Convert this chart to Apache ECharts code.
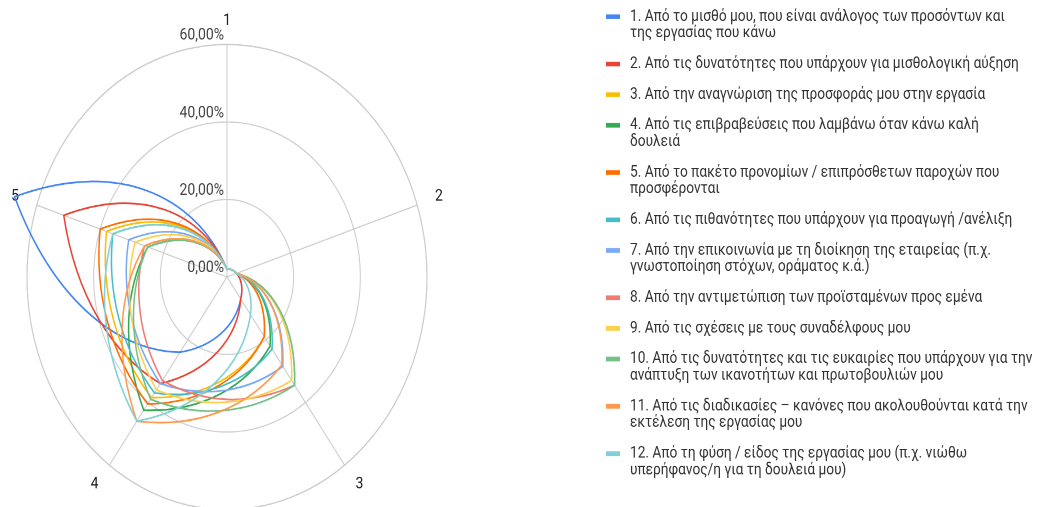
<!DOCTYPE html>
<html>
<head>
<meta charset="utf-8">
<script src="https://cdn.jsdelivr.net/npm/echarts@6/dist/echarts.min.js"></script>
<style>
  html, body { margin: 0; padding: 0; background: #fff; overflow: hidden; }
  #wrap { width: 1038px; height: 507px; overflow: hidden; }
  /* the radar is laid out on a 436px tall canvas and stretched to the full height */
  #chart { width: 1038px; height: 436px; transform: scaleY(1.1628); transform-origin: 0 0; }
</style>
</head>
<body>
<div id="wrap"><div id="chart"></div></div>
<script>
// spokes of the radar
const axisNames = ['1', '2', '3', '4', '5'];
// radial tick labels (0 % .. 60 %)
const tickLabels = ['0,00%', '20,00%', '40,00%', '60,00%'];

const seriesNames = [
  '1. Από το μισθό μου, που είναι ανάλογος των προσόντων και\nτης εργασίας που κάνω',
  '2. Από τις δυνατότητες που υπάρχουν για μισθολογική αύξηση',
  '3. Από την αναγνώριση της προσφοράς μου στην εργασία',
  '4. Από τις επιβραβεύσεις που λαμβάνω όταν κάνω καλή\nδουλειά',
  '5. Από το πακέτο προνομίων / επιπρόσθετων παροχών που\nπροσφέρονται',
  '6. Από τις πιθανότητες που υπάρχουν για προαγωγή /ανέλιξη',
  '7. Από την επικοινωνία με τη διοίκηση της εταιρείας (π.χ.\nγνωστοποίηση στόχων, οράματος κ.ά.)',
  '8. Από την αντιμετώπιση των προϊσταμένων προς εμένα',
  '9. Από τις σχέσεις με τους συναδέλφους μου',
  '10. Από τις δυνατότητες και τις ευκαιρίες που υπάρχουν για την\nανάπτυξη των ικανοτήτων και πρωτοβουλιών μου',
  '11. Από τις διαδικασίες – κανόνες που ακολουθούνται κατά την\nεκτέλεση της εργασίας μου',
  '12. Από τη φύση / είδος της εργασίας μου (π.χ. νιώθω\nυπερήφανος/η για τη δουλειά μου)'
];

const seriesColors = ['#4285F4', '#EA4335', '#FBBC04', '#34A853', '#FF6D01', '#46BDC6',
                      '#7BAAF7', '#F07B72', '#FCD04F', '#71C287', '#FF994D', '#7ED1D7'];

// percentage of answers per spoke 1..5
const pay           = [2, 3, 7, 24, 67];
const payRise       = [2, 3, 7, 34, 51.5];
const recognition   = [2, 3, 19, 38.5, 38];
const rewards       = [2, 3, 22, 42.5, 25];
const benefits      = [2, 3, 19, 40.5, 40];
const promotion     = [2, 3, 23, 37, 36];
const communication = [2, 3, 28.5, 34, 31];
const supervisors   = [2, 3, 34.5, 33, 26];
const colleagues    = [2, 3, 33, 36, 29];
const development   = [2, 3, 34.5, 39, 25];
const procedures    = [2, 3, 28, 46, 26];
const natureOfWork  = [2, 3, 12, 46, 36];

const seriesValues = [pay, payRise, recognition, rewards, benefits, promotion,
                      communication, supervisors, colleagues, development, procedures, natureOfWork];

const chart = echarts.init(document.getElementById('chart'), null, { renderer: 'canvas', devicePixelRatio: 2 });

// Each segment between two spokes is a cubic curve whose control points sit
// one third and two thirds of the way along the spoke-to-spoke step in polar space.
function makeRenderer(color) {
  return function (params, api) {
    const n = axisNames.length;
    const vals = [];
    for (let i = 0; i < n; i++) vals.push(api.value(i));
    const pt = (r, a) => api.coord([r, a]);
    const p0 = pt(vals[0], 0);
    let d = 'M' + p0[0] + ' ' + p0[1];
    for (let i = 0; i < n; i++) {
      const r0 = vals[i], r1 = vals[(i + 1) % n];
      const c1 = pt(r0 + (r1 - r0) / 3, i + 1 / 3);
      const c2 = pt(r0 + 2 * (r1 - r0) / 3, i + 2 / 3);
      const e = pt(r1, i + 1);
      d += ' C' + c1[0] + ' ' + c1[1] + ' ' + c2[0] + ' ' + c2[1] + ' ' + e[0] + ' ' + e[1];
    }
    d += ' Z';
    return {
      type: 'path',
      shape: { pathData: d },
      style: { fill: 'none', stroke: color, lineWidth: 1.5, lineJoin: 'miter' }
    };
  };
}

// one legend block per entry; for wrapped names the swatch sits at the top of a
// taller (invisible below) icon box so it lines up with the first text line
const LINE = 14.4, GAP = 11.9, SWATCH_H = 4, SWATCH_W = 14;
let lineCenter = 14.4;
const legends = seriesNames.map(function (name) {
  const lines = name.split('\n').length;
  const boxH = SWATCH_H + (lines - 1) * LINE;
  const icon = lines > 1
    ? 'path://M0 0H' + SWATCH_W + 'V' + SWATCH_H + 'H0Z M0 ' + boxH + 'H' + SWATCH_W
    : 'rect';
  const top = lineCenter - LINE / 2;
  lineCenter += lines * LINE + GAP;
  return {
    orient: 'vertical', left: 606, top: top, padding: 0,
    itemWidth: SWATCH_W, itemHeight: boxH, icon: icon, selectedMode: false,
    itemStyle: { borderWidth: 0 },
    data: [name],
    textStyle: {
      fontFamily: 'Roboto', fontSize: 13.7, color: '#333', lineHeight: LINE,
      padding: [0, 0, 0, 5]
    }
  };
});

chart.setOption({
  animation: false,
  backgroundColor: '#fff',
  legend: legends,
  polar: { center: [227, 238.2], radius: 200 },
  angleAxis: {
    type: 'value', min: 0, max: 5, interval: 1, startAngle: 90, clockwise: true,
    axisLine: { show: true, lineStyle: { color: '#ccc', width: 1 } },
    axisTick: { show: false },
    splitLine: { show: true, lineStyle: { color: '#ccc', width: 1 } },
    axisLabel: {
      formatter: function (v) { return v < axisNames.length ? axisNames[v] : ''; },
      margin: 18.7, lineHeight: 3,
      fontFamily: 'Roboto', fontSize: 14, color: '#222'
    }
  },
  radiusAxis: {
    type: 'value', min: 0, max: 60, interval: 20,
    axisLine: { show: false }, axisTick: { show: false },
    splitLine: { show: true, lineStyle: { color: '#ccc', width: 1 } },
    axisLabel: {
      formatter: function (v) { return tickLabels[Math.round(v / 20)]; },
      margin: 3, align: 'right', verticalAlign: 'bottom', lineHeight: 15,
      fontFamily: 'Roboto', fontSize: 14, color: '#444'
    }
  },
  series: seriesValues.map(function (vals, k) {
    return {
      type: 'custom', name: seriesNames[k], coordinateSystem: 'polar',
      itemStyle: { color: seriesColors[k] },
      silent: true, clip: false,
      data: [vals],
      renderItem: makeRenderer(seriesColors[k])
    };
  })
});
</script>
</body>
</html>
